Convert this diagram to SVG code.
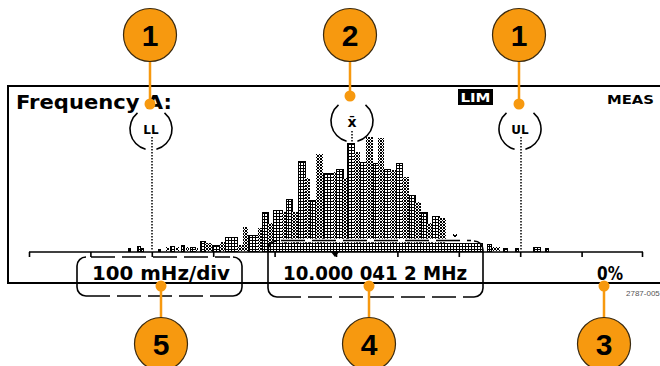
<svg xmlns="http://www.w3.org/2000/svg" width="660" height="366" viewBox="0 0 660 366">
<defs>
 <pattern id="gp" width="3" height="3" patternUnits="userSpaceOnUse"><rect width="3" height="3" fill="#000"/><rect x="1" y="1" width="2" height="2" fill="#fff"/></pattern>
 <pattern id="cp" width="3" height="3" patternUnits="userSpaceOnUse"><rect width="3" height="3" fill="#fff"/><rect x="0" y="0" width="1" height="1" fill="#000"/><rect x="2" y="0" width="1" height="1" fill="#000"/><rect x="1" y="1" width="1" height="1" fill="#000"/><rect x="0" y="2" width="1" height="1" fill="#000"/><rect x="2" y="2" width="1" height="1" fill="#000"/></pattern>
</defs>
<style>
 .scr{font-family:"DejaVu Sans","Liberation Sans",sans-serif;font-weight:bold;fill:#000}
 .num{font-family:"Liberation Sans",Arial,sans-serif;font-weight:bold;font-size:30px;fill:#000;text-anchor:middle}
 .co{fill:#F7990F;stroke:#3a2a10;stroke-width:1.2}
 .lead{stroke:#F7990F;stroke-width:2.5;fill:none}
 .dot{fill:#F7990F}
 .ring{fill:none;stroke:#000;stroke-width:1.6}
 .dotted{stroke:#000;stroke-width:1.5;stroke-dasharray:1.5 1.5;fill:none}
 .g{fill:url(#gp);stroke:#000;stroke-width:1}
 .c{fill:url(#cp)}
 .frame{stroke:#000;stroke-width:2;fill:none}
 .brk{stroke:#000;stroke-width:1.6;fill:none}
 .brkd{stroke:#000;stroke-width:1.6;fill:none;stroke-dasharray:24 7}
</style>
<rect width="660" height="366" fill="#fff"/>

<g id="screen">
 <path class="frame" d="M660,86 H8 V283 H660"/>
 <text class="scr" x="16" y="109" font-size="19" textLength="156" lengthAdjust="spacingAndGlyphs">Frequency A:</text>
 <rect x="458" y="89" width="35" height="16" fill="#000"/>
 <text class="scr" x="475.5" y="102" font-size="13" style="fill:#fff" text-anchor="middle" textLength="30" lengthAdjust="spacingAndGlyphs">LIM</text>
 <text class="scr" x="607" y="104" font-size="13" textLength="47" lengthAdjust="spacingAndGlyphs">MEAS</text>
</g>

<g id="histogram" shape-rendering="crispEdges">
 <rect class="g" x="128" y="248" width="2" height="3"/>
 <rect class="g" x="137" y="246" width="3" height="5"/>
 <rect class="g" x="141" y="248" width="2" height="3"/>
 <rect class="g" x="158" y="249" width="2" height="2"/>
 <rect class="c" x="166" y="247" width="3" height="4"/>
 <rect class="g" x="170" y="246" width="4" height="5"/>
 <rect class="c" x="176" y="247" width="3" height="4"/>
 <rect class="g" x="181" y="245" width="3" height="6"/>
 <rect class="c" x="186" y="247" width="3" height="4"/>
 <rect class="g" x="190" y="247" width="5" height="4"/>
 <rect class="c" x="195" y="248" width="3" height="3"/>
 <rect class="g" x="200" y="241" width="5" height="10"/>
 <rect class="c" x="205" y="243" width="7" height="8"/>
 <rect class="g" x="212" y="245" width="8" height="6"/>
 <rect class="c" x="220" y="242" width="5" height="9"/>
 <rect class="g" x="225" y="237" width="12" height="14"/>
 <rect class="c" x="237" y="245" width="6" height="6"/>
 <rect class="c" x="243" y="227" width="5" height="24"/>
 <rect class="g" x="248" y="235" width="10" height="16"/>
 <rect class="c" x="258" y="228" width="4" height="23"/>
 <rect class="g" x="262" y="212" width="6" height="39"/>
 <rect class="c" x="268" y="223" width="5" height="28"/>
 <rect class="g" x="273" y="210" width="9" height="41"/>
 <rect class="c" x="282" y="212" width="4" height="39"/>
 <rect class="g" x="286" y="199" width="6" height="52"/>
 <rect class="c" x="292" y="212" width="6" height="39"/>
 <rect class="g" x="298" y="161" width="7" height="90"/>
 <rect class="c" x="305" y="178" width="5" height="73"/>
 <rect class="g" x="310" y="200" width="6" height="51"/>
 <rect class="c" x="316" y="154" width="7" height="97"/>
 <rect class="g" x="323" y="173" width="10" height="78"/>
 <rect class="c" x="333" y="172" width="3" height="79"/>
 <rect class="g" x="336" y="169" width="7" height="82"/>
 <rect class="c" x="343" y="178" width="4" height="73"/>
 <rect class="g" x="347" y="143" width="7" height="108"/>
 <rect class="c" x="354" y="152" width="6" height="99"/>
 <rect class="g" x="360" y="162" width="6" height="89"/>
 <rect class="c" x="366" y="137" width="7" height="114"/>
 <rect class="g" x="373" y="163" width="5" height="88"/>
 <rect class="c" x="378" y="138" width="6" height="113"/>
 <rect class="g" x="384" y="169" width="6" height="82"/>
 <rect class="c" x="390" y="170" width="6" height="81"/>
 <rect class="g" x="396" y="163" width="6" height="88"/>
 <rect class="c" x="402" y="177" width="7" height="74"/>
 <rect class="g" x="409" y="195" width="6" height="56"/>
 <rect class="c" x="415" y="202" width="6" height="49"/>
 <rect class="g" x="421" y="212" width="6" height="39"/>
 <rect class="c" x="427" y="223" width="5" height="28"/>
 <rect class="g" x="432" y="216" width="7" height="35"/>
 <rect class="c" x="439" y="218" width="7" height="33"/>
 <rect class="c" x="446" y="244" width="6" height="7"/>
 <rect class="g" x="452" y="246" width="5" height="5"/>
 <rect class="c" x="457" y="245" width="8" height="6"/>
 <rect class="g" x="465" y="247" width="8" height="4"/>
 <rect class="c" x="473" y="246" width="8" height="5"/>
 <rect class="g" x="487" y="244" width="4" height="7"/>
 <rect class="c" x="492" y="247" width="8" height="4"/>
 <rect class="g" x="503" y="248" width="4" height="3"/>
 <rect class="g" x="515" y="248" width="3" height="3"/>
 <rect class="g" x="533" y="247" width="7" height="4"/>
 <rect class="g" x="545" y="248" width="3" height="3"/>
 <rect x="268" y="243" width="214" height="8" fill="#fff"/>
 <rect class="g" x="268" y="243" width="214" height="8"/>
 <path d="M453,234 l2,3 l2,-3" stroke="#000" stroke-width="1" fill="none"/>
</g>

<g id="axis">
 <path d="M29,252 H643" stroke="#000" stroke-width="1.6"/>
 <path d="M29.5,252v5 M90.9,252v5 M152.3,252v5 M213.7,252v5 M275.1,252v5 M336.5,252v5 M397.9,252v5 M459.3,252v5 M520.7,252v5 M582.1,252v5 M642.5,252v5" stroke="#000" stroke-width="1.6"/>
 <path d="M331,252 h8 l-4,5 z" fill="#000"/>
</g>

<g id="scale-readout">
 <path class="brk" d="M86,257 A9,9 0 0 0 77,266 V287 A9,9 0 0 0 86,296"/>
 <path class="brk" d="M233,257 A9,9 0 0 1 242,266 V287 A9,9 0 0 1 233,296"/>
 <path class="brkd" d="M91,257 H230 M86,296 H233"/>
 <text class="scr" x="92" y="280" font-size="19" textLength="138" lengthAdjust="spacingAndGlyphs">100 mHz/div</text>
</g>

<g id="mean-readout">
 <path d="M280,240.5 H472" stroke="#fff" stroke-width="3.5"/>
 <path class="brk" d="M277,241 A9,9 0 0 0 268,250 V288 A9,9 0 0 0 277,297"/>
 <path class="brk" d="M474,241 A9,9 0 0 1 483,250 V288 A9,9 0 0 1 474,297"/>
 <path class="brkd" d="M281,240.5 H471 M277,297 H474"/>
 <text class="scr" x="283" y="280" font-size="19" textLength="184" lengthAdjust="spacingAndGlyphs">10.000 041 2 MHz</text>
</g>

<g id="percent-readout">
 <text class="scr" x="597" y="280" font-size="19" textLength="26" lengthAdjust="spacingAndGlyphs">0%</text>
</g>

<g id="ll-marker">
 <path class="dotted" d="M152,137 V251"/>
 <path class="ring" d="M137.5,112.9 A21,21 0 0 0 145.6,149.3 M164.5,112.9 A21,21 0 0 1 156.4,149.3"/>
 <text class="scr" x="151" y="134" font-size="12" text-anchor="middle">LL</text>
</g>
<g id="mean-marker">
 <path class="dotted" d="M352,131 V143"/>
 <path class="ring" d="M338.5,104.9 A21,21 0 0 0 346.6,141.3 M365.5,104.9 A21,21 0 0 1 357.4,141.3"/>
 <text class="scr" x="352" y="127" font-size="14" text-anchor="middle">x̄</text>
</g>
<g id="ul-marker">
 <path class="dotted" d="M521,137 V251"/>
 <path class="ring" d="M506.5,112.9 A21,21 0 0 0 514.6,149.3 M533.5,112.9 A21,21 0 0 1 525.4,149.3"/>
 <text class="scr" x="520" y="134" font-size="12" text-anchor="middle">UL</text>
</g>

<text x="626" y="296" font-family="Liberation Sans, Arial, sans-serif" font-size="8" fill="#555">2787-005</text>

<g id="connectors">
 <path class="lead" d="M150,61 V104 M350,61 V96 M519,61 V104 M161,286 V318 M369,286 V318 M604,286 V318"/>
 <circle class="dot" cx="150" cy="104" r="5.5"/>
 <circle class="dot" cx="350" cy="96" r="5.5"/>
 <circle class="dot" cx="519" cy="104" r="5.5"/>
 <circle class="dot" cx="161" cy="286" r="5.5"/>
 <circle class="dot" cx="369" cy="286" r="5.5"/>
 <circle class="dot" cx="604" cy="286" r="5.5"/>
</g>

<g id="callout-1-left"><circle class="co" cx="150" cy="35" r="26.5"/><text class="num" x="150" y="46">1</text></g>
<g id="callout-2"><circle class="co" cx="350" cy="35" r="26.5"/><text class="num" x="350" y="46">2</text></g>
<g id="callout-1-right"><circle class="co" cx="519" cy="35" r="26.5"/><text class="num" x="519" y="46">1</text></g>
<g id="callout-5"><circle class="co" cx="161" cy="344" r="26.5"/><text class="num" x="161" y="355">5</text></g>
<g id="callout-4"><circle class="co" cx="369" cy="344" r="26.5"/><text class="num" x="369" y="355">4</text></g>
<g id="callout-3"><circle class="co" cx="604" cy="344" r="26.5"/><text class="num" x="604" y="355">3</text></g>
</svg>
